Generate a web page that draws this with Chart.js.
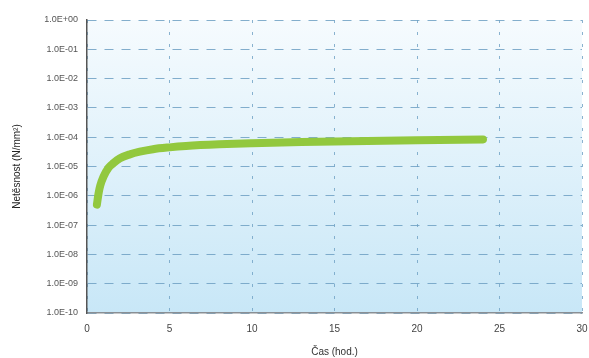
<!DOCTYPE html>
<html>
<head>
<meta charset="utf-8">
<script src="https://cdn.jsdelivr.net/npm/chart.js@4.4.1/dist/chart.umd.min.js"></script>
<style>
  html, body { margin: 0; padding: 0; background: #fff; }
  #wrap { width: 589px; height: 358px; }
</style>
</head>
<body>
<div id="wrap"><canvas id="chartLeak"></canvas></div>
<script>
// hodiny a netesnost
const hours = [0.6, 0.7, 0.8, 1.0, 1.3, 1.6, 2.0, 2.6, 3.2, 4.0, 5.0, 6.0, 8.0, 10, 13, 16, 20, 24];
const leakage = [5e-7, 1.2e-6, 2.2e-6, 4.5e-6, 9e-6, 1.3e-5, 1.9e-5, 2.6e-5, 3.2e-5, 3.9e-5, 4.5e-5, 5.0e-5, 5.7e-5, 6.2e-5, 6.8e-5, 7.3e-5, 7.9e-5, 8.4e-5];
const yTicks = [1e0, 1e-1, 1e-2, 1e-3, 1e-4, 1e-5, 1e-6, 1e-7, 1e-8, 1e-9, 1e-10];
const yLabels = ['1.0E+00', '1.0E-01', '1.0E-02', '1.0E-03', '1.0E-04', '1.0E-05', '1.0E-06', '1.0E-07', '1.0E-08', '1.0E-09', '1.0E-10'];
const xTicks = [0, 5, 10, 15, 20, 25, 30];

const points = hours.map((h, i) => ({ x: h, y: leakage[i] }));

// pozadi s prechodem do modre
const bgPlugin = {
  id: 'areaBg',
  beforeDraw(chart) {
    const { ctx, chartArea: a } = chart;
    const g = ctx.createLinearGradient(0, a.top, 0, a.bottom);
    g.addColorStop(0, '#f6fbfe');
    g.addColorStop(1, '#c8e7f7');
    ctx.save();
    ctx.fillStyle = g;
    ctx.fillRect(a.left, a.top, a.right - a.left, a.bottom - a.top);
    ctx.restore();
  }
};

const chart1 = document.getElementById('chartLeak').getContext('2d');
const chartLeak = new Chart(chart1, {
  type: 'line',
  data: {
    datasets: [{
      label: 'Netěsnost',
      data: points,
      borderColor: '#92c83e',
      borderWidth: 8,
      borderCapStyle: 'round',
      pointRadius: 0,
      cubicInterpolationMode: 'monotone',
      fill: false
    }]
  },
  options: {
    responsive: true,
    maintainAspectRatio: false,
    animation: false,
    layout: { padding: { left: 11, right: 7, top: 20, bottom: 0 } },
    plugins: {
      legend: { display: false },
      tooltip: { enabled: false }
    },
    scales: {
      x: {
        type: 'linear',
        min: 0,
        max: 30,
        afterBuildTicks: (s) => { s.ticks = xTicks.map(v => ({ value: v })); },
        afterFit: (s) => { s.height = 45; s.paddingLeft = 0; s.paddingRight = 0; },
        ticks: { color: '#444', font: { family: 'Liberation Sans', size: 10 }, padding: 10 },
        grid: { color: 'rgba(110,160,195,0.8)', lineWidth: 1, drawTicks: false },
        border: { display: true, color: '#8a8f94', width: 1.5, dash: [3, 9] },
        title: { display: true, text: 'Čas (hod.)', color: '#333', font: { family: 'Liberation Sans', size: 10 }, padding: { top: 1, bottom: 0 } }
      },
      y: {
        type: 'logarithmic',
        min: 1e-10,
        max: 1,
        afterBuildTicks: (s) => { s.ticks = yTicks.map(v => ({ value: v })); },
        afterFit: (s) => { s.width = 76; },
        ticks: {
          color: '#555',
          font: { family: 'Liberation Sans', size: 9 },
          padding: 9,
          callback: (v) => yLabels[yTicks.indexOf(v)] ?? ''
        },
        grid: { color: 'rgba(110,160,195,0.85)', lineWidth: 1, drawTicks: false },
        border: { display: true, color: '#555', width: 1.5, dash: [9, 8] },
        title: { display: true, text: 'Netěsnost (N/mm²)', color: '#222', font: { family: 'Liberation Sans', size: 10 }, padding: { top: 0, bottom: 4 } }
      }
    }
  },
  plugins: [bgPlugin]
});
</script>
</body>
</html>
